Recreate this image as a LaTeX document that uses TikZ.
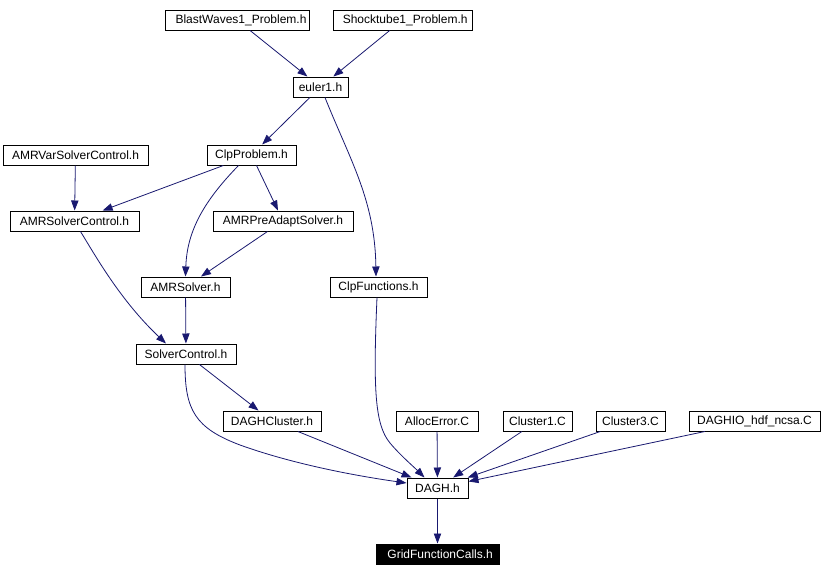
\documentclass[tikz,border=0pt]{standalone}
\usepackage{fontspec}
\setmainfont{Liberation Sans}
\usetikzlibrary{arrows.meta,calc}
\definecolor{navyc}{HTML}{191970}
\tikzset{
  nodebox/.style 2 args={draw=black, line width=0.75pt, minimum width=#1*0.75pt, minimum height=#2*0.75pt, inner sep=0pt, font=\fontsize{9pt}{10pt}\selectfont, anchor=center},
  dep/.style={draw=navyc, line width=0.6pt, -{Triangle[length=7.5pt,width=5.5pt]}}
}
\begin{document}
\begin{tikzpicture}[x=0.75pt,y=-0.75pt]
\useasboundingbox (0,0) rectangle (822,576);
\fill[white] (0,0) rectangle (822,576);
% nodes
\node[nodebox={144}{20}] (blast) at (237,20) {\hspace{6pt}BlastWaves1\_Problem.h};
\node[nodebox={139}{20}] (shock) at (402.5,20) {\hspace{4pt}Shocktube1\_Problem.h};
\node[nodebox={55}{20}] (euler) at (320.5,87) {euler1.h};
\node[nodebox={145}{20}] (amrvar) at (75.5,155) {AMRVarSolverControl.h};
\node[nodebox={89}{20}] (clpprob) at (251.5,155) {ClpProblem.h};
\node[nodebox={129}{20}] (amrsc) at (74.5,221) {AMRSolverControl.h};
\node[nodebox={140}{20}] (amrpre) at (283,221) {AMRPreAdaptSolver.h};
\node[nodebox={89}{20}] (amrsolver) at (185.5,287) {AMRSolver.h};
\node[nodebox={97}{20}] (clpfun) at (378.5,287) {ClpFunctions.h};
\node[nodebox={100}{20}] (solverc) at (186,354) {SolverControl.h};
\node[nodebox={98}{20}] (daghcl) at (272,421) {DAGHCluster.h};
\node[nodebox={82}{20}] (alloc) at (437,421) {AllocError.C};
\node[nodebox={69}{20}] (cl1) at (537.5,421) {Cluster1.C};
\node[nodebox={69}{20}] (cl3) at (630.5,421) {Cluster3.C};
\node[nodebox={131}{20}] (daghio) at (754.5,421) {DAGHIO\_hdf\_ncsa.C};
\node[nodebox={61}{20}] (dagh) at (437.5,488) {DAGH.h};
\node[nodebox={123}{20}, fill=black, text=white] (grid) at (437.5,554) {\hspace{4pt}GridFunctionCalls.h};
% edges
\draw[dep] (blast) -- (euler);
\draw[dep] (shock) -- (euler);
\draw[dep] (euler) -- (clpprob);
\draw[dep] ($(euler.south)+(4.5,0)$) .. controls (350,160) and (375,200) .. ($(clpfun.north)+(-2.5,0)$);
\draw[dep] (amrvar) -- (amrsc);
\draw[dep] (clpprob) -- (amrsc);
\draw[dep] ($(clpprob.south)+(-13,0)$) .. controls (205,200) and (187,230) .. (amrsolver.north);
\draw[dep] (clpprob) -- (amrpre);
\draw[dep] (amrpre) -- (amrsolver);
\draw[dep] ($(amrsc.south)+(6,0)$) .. controls (95,255) and (120,300) .. ($(solverc.north)+(-20,0)$);
\draw[dep] (amrsolver) -- (solverc);
\draw[dep] (solverc) -- (daghcl);
\draw[dep] ($(solverc.south)+(-1,0)$) .. controls (185,410) and (195,428) .. (240,445) .. controls (290,463) and (350,475) .. ($(dagh.west)+(0,-5)$);
\draw[dep] ($(clpfun.south)+(-1.5,0)$) .. controls (373,390) and (375,425) .. (390,443) .. controls (400,455) and (415,468) .. ($(dagh.north)+(-13,0)$);
\draw[dep] (daghcl) -- (dagh);
\draw[dep] (alloc) -- (dagh);
\draw[dep] (cl1) -- (dagh);
\draw[dep] (cl3) -- (dagh);
\draw[dep] (daghio) -- (dagh);
\draw[dep] (dagh) -- (grid);
\end{tikzpicture}
\end{document}
